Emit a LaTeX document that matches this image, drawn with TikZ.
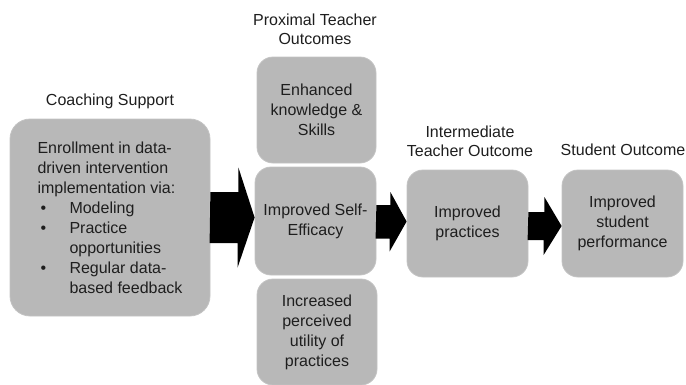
\documentclass[tikz,border=0pt]{standalone}
\usepackage{fontspec}
\setmainfont{Liberation Sans}
\usetikzlibrary{calc}
\definecolor{boxgray}{RGB}{184,184,184}
\definecolor{txt}{RGB}{30,30,30}
\tikzset{
  box/.style={rectangle, rounded corners=16pt, fill=boxgray, draw=boxgray!85!white, line width=0.8pt,
    align=center, text=txt, font=\fontsize{16}{20}\selectfont, inner sep=0pt},
  hdr/.style={align=center, text=txt, font=\fontsize{16}{19}\selectfont, inner sep=0pt},
  barrow/.style={fill=black}
}
\newcommand{\bul}{\hspace*{3pt}\makebox[29pt][l]{\textbullet}}
\begin{document}
\begin{tikzpicture}[x=1pt,y=-1pt]
\useasboundingbox (0,0) rectangle (686,384);
% boxes
\node[box, rounded corners=20pt, minimum width=200pt, minimum height=197pt, align=left] (coach) at (110,217.5)
 {Enrollment in data-\\driven intervention\\implementation via:\\
  \bul Modeling\\ \bul Practice\\ \hspace*{32pt}opportunities\\ \bul Regular data-\\ \hspace*{32pt}based feedback};
\node[box, minimum width=119pt, minimum height=106pt] (know) at (316.5,110) {Enhanced\\knowledge \&\\Skills};
\node[box, minimum width=121pt, minimum height=108pt] (self) at (315.5,221) {Improved Self-\\Efficacy};
\node[box, minimum width=120pt, minimum height=106pt] (util) at (317,332) {Increased\\perceived\\utility of\\practices};
\node[box, minimum width=121pt, minimum height=107pt] (prac) at (467.5,223.5) {Improved\\practices};
\node[box, minimum width=121pt, minimum height=107pt] (stud) at (622.5,223.5) {Improved\\student\\performance};
% headers
\node[hdr] (hcoach) at (110,101) {Coaching Support};
\node[hdr] (hprox) at (315,29.5) {Proximal Teacher\\Outcomes};
\node[hdr] (hint) at (470,141) {Intermediate\\Teacher Outcome};
\node[hdr] (hstud) at (623,150) {Student Outcome};
% block arrows
\fill[barrow] ($(coach.east)+(0,-25.5)$) -- ++(28,0) -- ++(0,-24.5) -- ($(self.west)+(0,-3.5)$)
  -- ++(-17,50) -- ++(0,-24.5) -- ++(-28,0) -- cycle;
\fill[barrow] ($(self.east)+(0,-16)$) -- ++(14,0) -- ++(0,-13) -- ($(prac.west)+(0,-2)$)
  -- ++(-17,30) -- ++(0,-13) -- ++(-14,0) -- cycle;
\fill[barrow] ($(prac.east)+(0,-11.5)$) -- ++(16,0) -- ++(0,-15) -- ($(stud.west)+(0,2.5)$)
  -- ++(-18,29) -- ++(0,-15) -- ++(-16,0) -- cycle;
\end{tikzpicture}
\end{document}
